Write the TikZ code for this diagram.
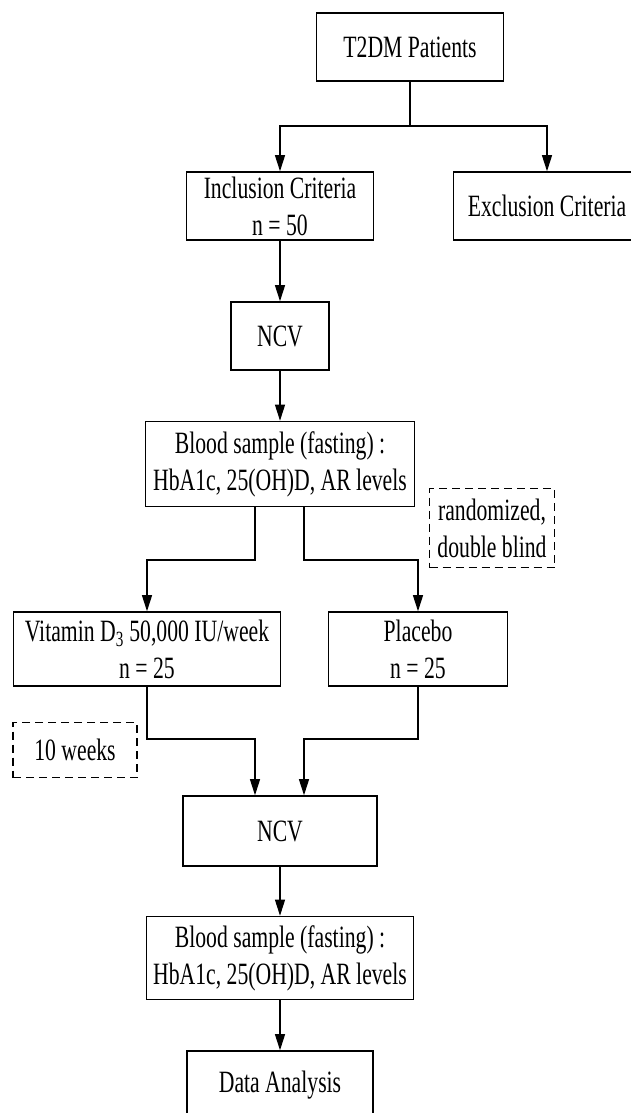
\documentclass[tikz,border=0pt]{standalone}
\usepackage{fontspec}
\setmainfont{Liberation Serif}[FakeStretch=0.7]
\usetikzlibrary{arrows.meta}
\tikzset{
  box/.style={draw, line width=1.6pt, align=center, inner sep=0pt, minimum height=68pt},
  dashbox/.style={draw, line width=1.4pt, dash pattern=on 8pt off 5pt, align=center, inner sep=0pt},
  link/.style={line width=1.1pt},
  arr/.style={line width=1.1pt, -{Triangle[width=10pt,length=16pt]}}
}
\begin{document}
\begin{tikzpicture}[x=1pt, y=-1pt, font=\fontsize{31}{37}\selectfont]
\useasboundingbox (0,0) rectangle (630,1113);

\node[box, minimum width=187pt] (t2dm) at (410,47) {T2DM Patients};
\node[box, minimum width=187pt] (incl) at (280,206) {Inclusion Criteria\\n = 50};
\node[box, minimum width=187pt] (excl) at (547,206) {Exclusion Criteria};
\node[box, minimum width=98pt] (ncv1) at (280,336) {NCV};
\node[box, minimum width=269pt, minimum height=85pt] (blood1) at (280,464) {Blood sample (fasting) :\\HbA1c, 25(OH)D, AR levels};
\node[dashbox, minimum width=125pt, minimum height=79pt] (rand) at (492,528) {randomized,\\double blind};
\node[box, minimum width=267pt, minimum height=74pt] (vit) at (147,649) {Vitamin D\textsubscript{3} 50,000 IU/week\\n = 25};
\node[box, minimum width=179pt, minimum height=74pt] (plac) at (418,649) {Placebo\\n = 25};
\node[dashbox, minimum width=124pt, minimum height=55pt] (weeks) at (75,750) {10 weeks};
\node[box, minimum width=194pt, minimum height=70pt] (ncv2) at (280,831) {NCV};
\node[box, minimum width=267pt, minimum height=83pt] (blood2) at (280,958) {Blood sample (fasting) :\\HbA1c, 25(OH)D, AR levels};
\node[box, minimum width=186pt] (data) at (280,1085) {Data Analysis};

\coordinate (top) at (410,126);
\coordinate (s1) at (255,560);
\coordinate (s2) at (304,560);
\coordinate (m1) at (255,739);
\coordinate (m2) at (304,739);

\draw[link] (t2dm.south) -- (top);
\draw[arr] (top) -| (incl.north);
\draw[arr] (top) -| (excl.north);
\draw[arr] (incl) -- (ncv1);
\draw[arr] (ncv1) -- (blood1);
\draw[arr] (blood1.south -| s1) -- (s1) -| (vit.north);
\draw[arr] (blood1.south -| s2) -- (s2) -| (plac.north);
\draw[arr] (vit.south) |- (m1) -- (ncv2.north -| m1);
\draw[arr] (plac.south) |- (m2) -- (ncv2.north -| m2);
\draw[arr] (ncv2) -- (blood2);
\draw[arr] (blood2) -- (data);
\end{tikzpicture}
\end{document}
